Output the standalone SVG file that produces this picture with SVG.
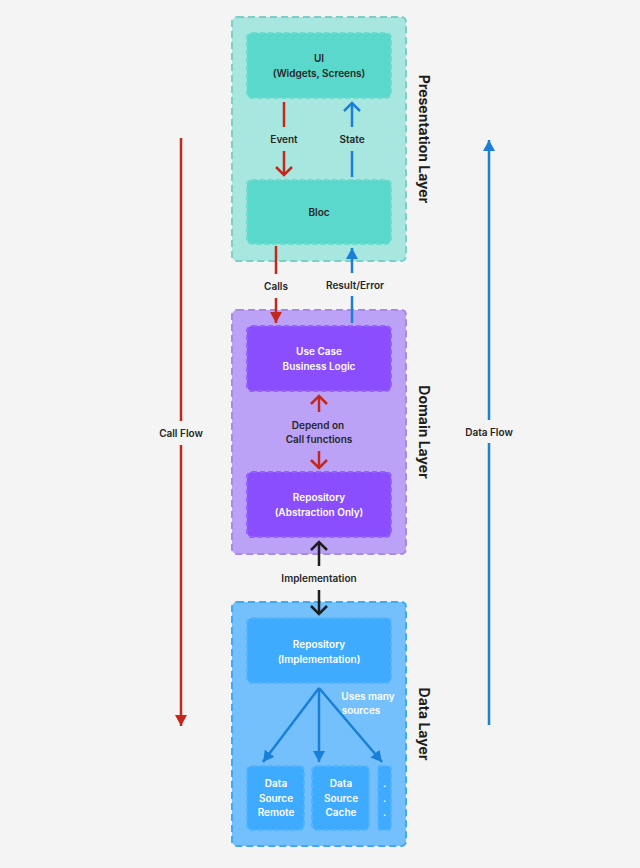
<svg xmlns="http://www.w3.org/2000/svg" width="640" height="868" viewBox="0 0 640 868">
<style>
text{font-family:Inter,"Liberation Sans",sans-serif;font-weight:600;font-size:10px;text-anchor:middle;fill:#262626}
.w{fill:#ffffff}
.title{font-size:14px;font-weight:700;fill:#1e1e1e}
.layer{stroke-width:2;stroke-dasharray:7 4}
.inner{stroke-width:2;stroke-dasharray:5 3}
.red{stroke:#c4271c;stroke-width:2.5;fill:none}
.blue{stroke:#1a7fd6;stroke-width:2.5;fill:none}
.blk{stroke:#1e1e1e;stroke-width:2.5;fill:none}
</style>
<defs>
<marker id="chR" viewBox="0 0 20 20" refX="11" refY="10" markerWidth="20" markerHeight="20" markerUnits="userSpaceOnUse" orient="auto"><path d="M3,2 L11,10 L3,18" fill="none" stroke="#c4271c" stroke-width="2.5"/></marker>
<marker id="chB" viewBox="0 0 20 20" refX="11" refY="10" markerWidth="20" markerHeight="20" markerUnits="userSpaceOnUse" orient="auto"><path d="M3,2 L11,10 L3,18" fill="none" stroke="#1a7fd6" stroke-width="2.5"/></marker>
<marker id="chK" viewBox="0 0 20 20" refX="11" refY="10" markerWidth="20" markerHeight="20" markerUnits="userSpaceOnUse" orient="auto"><path d="M3,2 L11,10 L3,18" fill="none" stroke="#1e1e1e" stroke-width="2.5"/></marker>
<marker id="trR" viewBox="0 0 12 12" refX="11" refY="6" markerWidth="12" markerHeight="12" markerUnits="userSpaceOnUse" orient="auto"><path d="M0,0 L11,6 L0,12 Z" fill="#c4271c"/></marker>
<marker id="trB" viewBox="0 0 12 12" refX="11" refY="6" markerWidth="12" markerHeight="12" markerUnits="userSpaceOnUse" orient="auto"><path d="M0,0 L11,6 L0,12 Z" fill="#1a7fd6"/></marker>
</defs>
<rect width="640" height="868" fill="#f4f4f4"/>

<g id="presentation-layer">
<rect class="layer" x="232" y="17" width="174" height="244" rx="5" fill="#a8e6e0" stroke="#7ccfc7"/>
<text class="title" transform="translate(419,139) rotate(90)">Presentation Layer</text>
</g>
<g id="ui">
<rect class="inner" x="247" y="33" width="144" height="65" rx="5" fill="#5ad8cb" stroke="#6ddccf"/>
<text x="319" y="62">UI</text>
<text x="319" y="77">(Widgets, Screens)</text>
</g>
<g id="bloc">
<rect class="inner" x="247" y="180" width="144" height="64" rx="5" fill="#5ad8cb" stroke="#6ddccf"/>
<text x="319" y="216">Bloc</text>
</g>

<g id="domain-layer">
<rect class="layer" x="232" y="310" width="174" height="244" rx="5" fill="#bca2f7" stroke="#a68ae3"/>
<text class="title" transform="translate(419,432) rotate(90)">Domain Layer</text>
</g>
<g id="use-case">
<rect class="inner" x="247" y="326" width="144" height="65" rx="5" fill="#8a4eff" stroke="#9560ff"/>
<text class="w" x="319" y="355">Use Case</text>
<text class="w" x="319" y="370">Business Logic</text>
</g>
<g id="repository-abstract">
<rect class="inner" x="247" y="472" width="144" height="65" rx="5" fill="#8a4eff" stroke="#9560ff"/>
<text class="w" x="319" y="501">Repository</text>
<text class="w" x="319" y="516">(Abstraction Only)</text>
</g>

<g id="data-layer">
<rect class="layer" x="232" y="602" width="174" height="244" rx="5" fill="#74c0fc" stroke="#3ea9f7"/>
<text class="title" transform="translate(419,724) rotate(90)">Data Layer</text>
</g>
<g id="repository-impl">
<rect class="inner" x="247" y="618" width="144" height="65" rx="5" fill="#3eabff" stroke="#52b3ff"/>
<text class="w" x="319" y="648">Repository</text>
<text class="w" x="319" y="663">(Implementation)</text>
</g>
<g id="ds-remote">
<rect class="inner" x="247" y="766" width="57" height="64" rx="5" fill="#3eabff" stroke="#52b3ff"/>
<text class="w" x="276" y="787">Data</text>
<text class="w" x="276" y="802">Source</text>
<text class="w" x="276" y="816">Remote</text>
</g>
<g id="ds-cache">
<rect class="inner" x="312" y="766" width="57" height="64" rx="5" fill="#3eabff" stroke="#52b3ff"/>
<text class="w" x="341" y="787">Data</text>
<text class="w" x="341" y="802">Source</text>
<text class="w" x="341" y="816">Cache</text>
</g>
<g id="ds-more">
<rect class="inner" x="378" y="766" width="13" height="64" rx="3" fill="#3eabff" stroke="#52b3ff"/>
<text class="w" x="384.5" y="787">.</text>
<text class="w" x="384.5" y="802">.</text>
<text class="w" x="384.5" y="816">.</text>
</g>

<g id="connectors">
<line class="red" x1="284" y1="102" x2="284" y2="127"/>
<text x="284" y="143">Event</text>
<line class="red" x1="284" y1="151" x2="284" y2="175" marker-end="url(#chR)"/>
<line class="blue" x1="352" y1="177" x2="352" y2="151"/>
<text x="352" y="143">State</text>
<line class="blue" x1="352" y1="127" x2="352" y2="103" marker-end="url(#chB)"/>

<line class="red" x1="276" y1="246" x2="276" y2="274"/>
<text x="276" y="290">Calls</text>
<line class="red" x1="276" y1="298" x2="276" y2="323" marker-end="url(#trR)"/>
<line class="blue" x1="352" y1="323" x2="352" y2="296"/>
<text x="355" y="289">Result/Error</text>
<line class="blue" x1="352" y1="273" x2="352" y2="248" marker-end="url(#trB)"/>

<line class="red" x1="319" y1="412" x2="319" y2="396" marker-end="url(#chR)"/>
<text x="318" y="429">Depend on</text>
<text x="319" y="443">Call functions</text>
<line class="red" x1="319" y1="451" x2="319" y2="468" marker-end="url(#chR)"/>

<line class="blk" x1="319" y1="566" x2="319" y2="542" marker-end="url(#chK)"/>
<text x="319" y="582">Implementation</text>
<line class="blk" x1="319" y1="590" x2="319" y2="614" marker-end="url(#chK)"/>

<line class="blue" x1="319" y1="688" x2="263" y2="762" marker-end="url(#trB)"/>
<line class="blue" x1="319" y1="688" x2="319" y2="762" marker-end="url(#trB)"/>
<line class="blue" x1="319" y1="688" x2="382" y2="762" marker-end="url(#trB)"/>
<text class="w" x="368" y="700">Uses many</text>
<text class="w" x="361" y="714">sources</text>

<line class="red" x1="181" y1="138" x2="181" y2="421"/>
<text x="181" y="437">Call Flow</text>
<line class="red" x1="181" y1="445" x2="181" y2="726" marker-end="url(#trR)"/>
<line class="blue" x1="489" y1="725" x2="489" y2="443"/>
<text x="489" y="436">Data Flow</text>
<line class="blue" x1="489" y1="420" x2="489" y2="140" marker-end="url(#trB)"/>
</g>
</svg>
